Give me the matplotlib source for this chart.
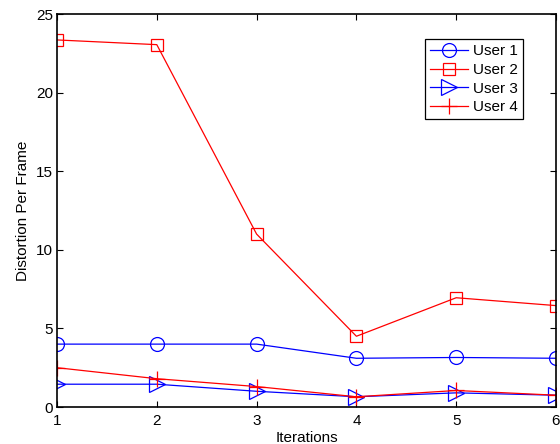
import matplotlib
matplotlib.use("Agg")
import matplotlib.pyplot as plt

plt.rcParams['font.family'] = ['Liberation Sans', 'DejaVu Sans']

iterations = [1, 2, 3, 4, 5, 6]
user1 = [4.0, 4.0, 4.0, 3.1, 3.15, 3.1]
user2 = [23.35, 23.05, 11.0, 4.5, 6.95, 6.45]
user3 = [1.45, 1.45, 1.0, 0.65, 0.9, 0.75]
user4 = [2.5, 1.8, 1.3, 0.65, 1.05, 0.75]
labels = ['User 1', 'User 2', 'User 3', 'User 4']
xticks = [1, 2, 3, 4, 5, 6]
yticks = [0, 5, 10, 15, 20, 25]

fig = plt.figure(figsize=(5.6, 4.44), dpi=100)
ax = fig.add_axes([57/560, 1-407/444, (556-57)/560, (407-14)/444])

lw = 0.9
ax.plot(iterations, user1, color='blue', marker='o', markersize=10, mfc='none', lw=lw, mew=lw, label=labels[0])
ax.plot(iterations, user2, color='red', marker='s', markersize=8, mfc='none', lw=lw, mew=lw, label=labels[1])
ax.plot(iterations, user3, color='blue', marker='>', markersize=11, mfc='none', lw=lw, mew=lw, label=labels[2])
ax.plot(iterations, user4, color='red', marker='+', markersize=12, mfc='none', lw=lw, mew=lw, label=labels[3])

ax.set_xlim(1, 6)
ax.set_ylim(0, 25)
ax.set_xticks(xticks)
ax.set_yticks(yticks)
ax.tick_params(direction='in', top=True, right=True, labelsize=11, length=4, width=0.8, pad=3)
ax.tick_params(axis='x', pad=5)
for s in ax.spines.values():
    s.set_linewidth(1.2)
ax.set_xlabel('Iterations', fontsize=11, labelpad=2)
ax.set_ylabel('Distortion Per Frame', fontsize=11, labelpad=4)

leg = ax.legend(loc='upper right', bbox_to_anchor=(523/560, 1-39/444), bbox_transform=fig.transFigure,
                fancybox=False, framealpha=1, edgecolor='black', fontsize=11,
                handlelength=2.5, borderpad=0.35, labelspacing=0.3, handletextpad=0.3, borderaxespad=0)
leg.get_frame().set_linewidth(0.9)

fig.savefig('out.png', dpi=100)
